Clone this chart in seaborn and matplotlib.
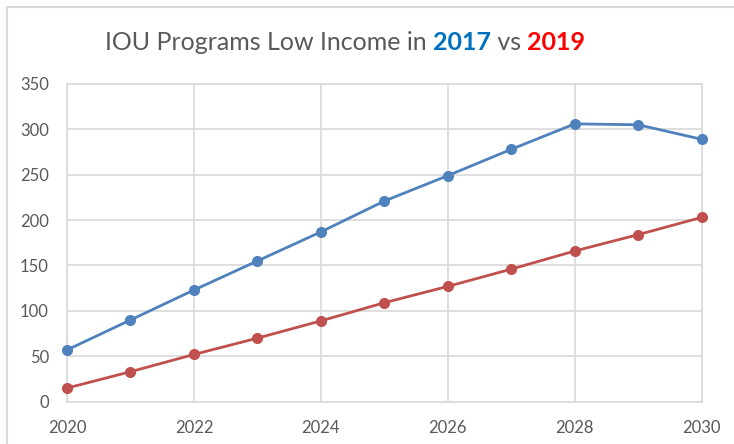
import matplotlib.pyplot as plt
import numpy as np
import pandas as pd
import seaborn as sns
from matplotlib.lines import Line2D

anios = [2020, 2021, 2022, 2023, 2024, 2025, 2026, 2027, 2028, 2029, 2030]
valores_2017 = [57, 90, 123, 155, 187, 221, 249, 278, 306, 305, 289]
valores_2019 = [15, 33, 52, 70, 89, 109, 127, 146, 166, 184, 203]

datos = pd.DataFrame({
    "anio": anios * 2,
    "valor": valores_2017 + valores_2019,
    "serie": ["2017"] * len(anios) + ["2019"] * len(anios),
})

sns.set_style("white")
plt.rcParams["font.family"] = ["Lato", "DejaVu Sans"]

gris_texto = "#595959"
gris_rejilla = "#D9D9D9"

fig = plt.figure(figsize=(7.34, 4.44), dpi=100)
ax = fig.add_axes([0.0913, 0.0953, 0.8647, 0.7157])

sns.lineplot(data=datos, x="anio", y="valor", hue="serie",
             palette={"2017": "#4F81BD", "2019": "#C0504D"},
             marker="o", markersize=8, markeredgewidth=0, linewidth=2,
             legend=False, ax=ax)
for linea in ax.get_lines():
    linea.set_clip_on(False)  # que no se corten los puntos en los bordes

ax.set_xlim(2020, 2030)
ax.set_ylim(0, 350)
ax.set_xticks(range(2020, 2031, 2))
ax.set_yticks(range(0, 351, 50))
ax.set_xlabel("")
ax.set_ylabel("")
ax.grid(True, color=gris_rejilla, linewidth=1.2)
ax.set_axisbelow(True)
for lado in ax.spines.values():
    lado.set_color(gris_rejilla)
    lado.set_linewidth(1.2)
    lado.set_zorder(0.5)
ax.tick_params(axis="both", length=0, labelsize=12, labelcolor=gris_texto)
ax.tick_params(axis="x", pad=13)
ax.tick_params(axis="y", pad=13)

# titulo con partes de colores
partes = [("IOU Programs Low Income in ", gris_texto, "normal"),
          ("2017", "#0070C0", "bold"),
          (" vs ", gris_texto, "normal"),
          ("2019", "#FF0000", "bold")]
fig.canvas.draw()
render = fig.canvas.get_renderer()
textos = []
x = 0
for txt, color, peso in partes:
    t = fig.text(x, 1 - 50 / 444, txt, color=color, fontsize=18,
                 fontweight=peso, ha="left", va="baseline")
    textos.append(t)
    x += t.get_window_extent(render).width / fig.bbox.width
inicio = 345 / 734 - x / 2
for t in textos:
    t.set_x(t.get_position()[0] + inicio)

# borde del grafico (arriba e izquierda)
fig.add_artist(Line2D([7 / 734, 1], [1 - 7 / 444, 1 - 7 / 444],
                      color="#D9D9D9", linewidth=1.5))
fig.add_artist(Line2D([7 / 734, 7 / 734], [0, 1 - 7 / 444],
                      color="#D9D9D9", linewidth=1.5))

fig.savefig("out.png", dpi=100)
